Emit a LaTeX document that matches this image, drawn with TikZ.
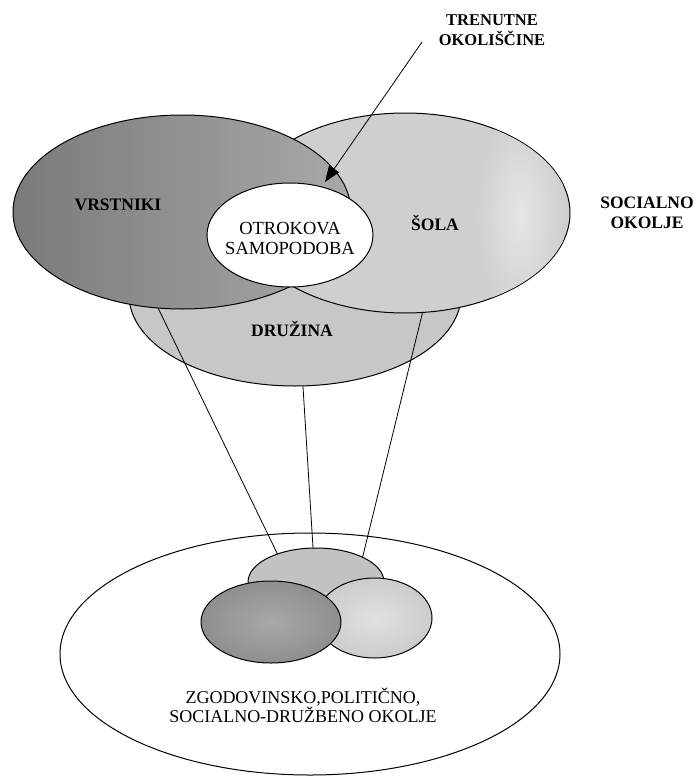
\documentclass[tikz,border=0pt]{standalone}
\usepackage{fontspec}
\setmainfont{Liberation Serif}
\usetikzlibrary{shapes.geometric,arrows.meta}
\begin{document}
\begin{tikzpicture}[x=1pt,y=-1pt,
  blob/.style={ellipse, draw=black, line width=1pt, inner sep=0pt, outer sep=0pt},
  lbl/.style={font=\bfseries\fontsize{17.5}{20}\selectfont, align=center, inner sep=0pt},
  lblr/.style={font=\fontsize{18.5}{20}\selectfont, align=center, inner sep=0pt},
  link/.style={line width=0.8pt}]
\useasboundingbox (0,0) rectangle (694,776);

% upper cluster: family behind, school, peers, and the self-image in front
\node[blob, fill=black!22, minimum width=332pt, minimum height=182pt] (fam) at (295,295) {};
\node[blob, fill=black!19, minimum width=330pt, minimum height=200pt] (sch) at (405,213) {};
% lighter band on the right part of the school ellipse
\begin{scope}
  \clip (405,213) ellipse [x radius=164.5, y radius=99.5];
  \shade[inner color=black!10, outer color=black!19] (520,215) ellipse [x radius=45, y radius=105];
\end{scope}
\node[blob, left color=black!52, right color=black!34, minimum width=338pt, minimum height=194pt] (peer) at (182,212) {};
\node[blob, fill=white, minimum width=166pt, minimum height=104pt] (self) at (290,235) {};

\node[lbl, anchor=base] (peerlbl) at (118,210) {VRSTNIKI};
\node[lbl, anchor=base] (schlbl) at (435,230) {ŠOLA};
\node[lbl, anchor=base] (famlbl) at (292,336) {DRUŽINA};
\node[lblr] (selflbl) at (290,238) {OTROKOVA\\SAMOPODOBA};
\node[lbl] (soc) at (647,212.5) {SOCIALNO\\OKOLJE};
\node[lbl, font=\bfseries\fontsize{16.5}{20}\selectfont] (tren) at (492,30.5) {TRENUTNE\\OKOLIŠČINE};

% arrow for the current circumstances
\coordinate (arrowfrom) at (422,42);
\coordinate (arrowto) at (325,182);
\draw[link, -{Triangle[length=16pt,width=12pt]}] (arrowfrom) -- (arrowto);

% lower cluster inside the wider environment
\node[blob, minimum width=500pt, minimum height=242pt] (env) at (310,654) {};
\node[blob, fill=black!24, minimum width=136pt, minimum height=68pt] (topsm) at (316,582) {};
\node[blob, inner color=black!12, outer color=black!20, minimum width=115pt, minimum height=80pt] (rsm) at (374.5,618) {};
\node[blob, inner color=black!34, outer color=black!44, minimum width=140pt, minimum height=82pt] (lsm) at (271,622) {};
\node[lblr, font=\fontsize{18}{18}\selectfont] (envlbl) at (303,705.5) {ZGODOVINSKO,POLITIČNO,\\SOCIALNO-DRUŽBENO OKOLJE};

% projection lines from the upper cluster to the small one
\draw[link] (peer.-104) -- (topsm.144.5);
\draw[link] (fam.-85) -- (topsm.95);
\draw[link] (sch.-80.3) -- (topsm.28.5);
\end{tikzpicture}
\end{document}
